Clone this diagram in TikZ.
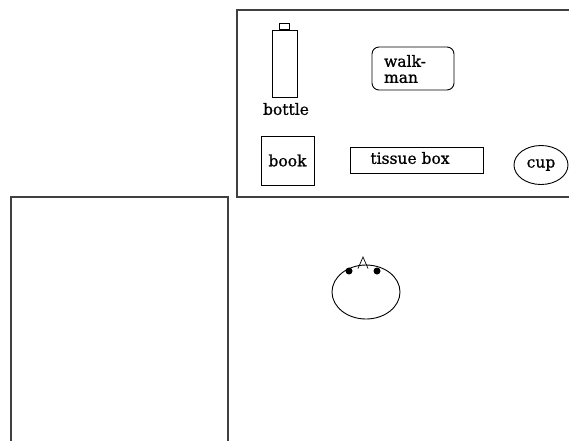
\documentclass[tikz,border=0pt]{standalone}
\usepackage{fontspec}
\setmainfont[FakeBold=0.8,UprightFeatures={FakeBold=0.8}]{DejaVu Serif}
\usetikzlibrary{shapes.geometric}
\begin{document}
\begin{tikzpicture}[x=1pt,y=-1pt,line width=0.9pt,
  obj/.style={draw,inner sep=0pt,font=\fontsize{15.5}{16}\selectfont},
  lbl/.style={inner sep=0pt,font=\fontsize{15.5}{16}\selectfont},
  frame/.style={draw=black!75,line width=1.3pt}]
\useasboundingbox (0,0) rectangle (569,440);
\fill[white] (0,0) rectangle (569,440);
% table and desk
\draw[frame] (237,10) rectangle (575,197);
\draw[frame] (11,197) rectangle (228,450);
% bottle
\node[draw,minimum width=25pt,minimum height=67pt,inner sep=0pt] (bottle) at (284.5,63.5) {};
\node[draw,minimum width=10pt,minimum height=6pt,inner sep=0pt,anchor=south] (cap) at (bottle.north) {};
\node[lbl] (bottlelbl) at (286,109) {bottle};
% walkman
\node[draw,rounded corners=7pt,minimum width=82pt,minimum height=43pt,inner sep=0pt] (walkman) at (413,68.5) {};
\node[lbl,align=left] (walkmanlbl) at (405,69) {walk-\\[0pt]man};
% book
\node[obj,minimum width=53pt,minimum height=49pt] (book) at (287.5,160.5) {book};
% tissue box
\node[draw,minimum width=133pt,minimum height=26pt,inner sep=0pt] (tissue) at (416.5,160) {};
\node[lbl] (tissuelbl) at (410,158) {tissue box};
% cup
\node[obj,ellipse,minimum width=54pt,minimum height=39pt] (cup) at (541,165) {cup};
% head
\node[draw,ellipse,minimum width=68pt,minimum height=54pt,inner sep=0pt] (head) at (366,292) {};
\coordinate (nl) at (358,268.5);
\coordinate (nr) at (368,268.5);
\coordinate (nt) at (363,257);
\draw[line width=0.7pt] (nl) -- (nt) -- (nr);
\fill (349,271) circle (3.5);
\fill (377,271) circle (3.5);
\end{tikzpicture}
\end{document}
